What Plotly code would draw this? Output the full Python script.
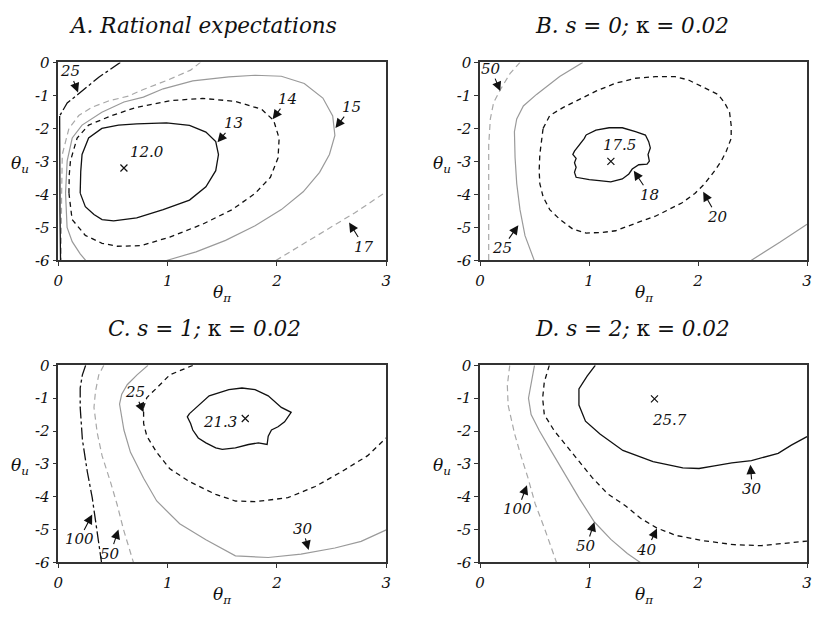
import plotly.graph_objects as go

W, H = 815, 619

# ---------------- tick labels ----------------
x_ticks = [0, 1, 2, 3]
x_tick_labels = ["0", "1", "2", "3"]
y_ticks = [0, -1, -2, -3, -4, -5, -6]
y_tick_labels = ["0", "-1", "-2", "-3", "-4", "-5", "-6"]

panel_titles = [
    "<i>A. Rational expectations</i>",
    "<i>B. s = 0;</i> κ <i>= 0.02</i>",
    "<i>C. s = 1;</i> κ <i>= 0.02</i>",
    "<i>D. s = 2;</i> κ <i>= 0.02</i>",
]

# ---------------- Panel A : rational expectations ----------------
A13_x = [0.2, 0.205, 0.217, 0.277, 0.398, 0.55, 0.717, 0.989, 1.20, 1.35, 1.44, 1.465, 1.44, 1.35, 1.20, 0.959, 0.717, 0.506, 0.40, 0.326, 0.247, 0.2]
A13_y = [-3.96, -3.3, -2.79, -2.29, -2.0, -1.9, -1.86, -1.83, -1.91, -2.11, -2.40, -2.79, -3.28, -3.77, -4.17, -4.46, -4.71, -4.80, -4.76, -4.61, -4.37, -3.96]
A14_x = [0.097, 0.1, 0.111, 0.172, 0.277, 0.488, 0.717, 0.868, 1.02, 1.32, 1.62, 1.86, 1.97, 2.02, 2.01, 1.94, 1.80, 1.59, 1.32, 1.02, 0.76, 0.537, 0.4, 0.247, 0.126, 0.097]
A14_y = [-3.96, -3.4, -2.98, -2.29, -1.90, -1.61, -1.36, -1.26, -1.16, -1.09, -1.18, -1.42, -1.76, -2.30, -2.89, -3.48, -3.97, -4.46, -4.90, -5.29, -5.55, -5.57, -5.48, -5.24, -4.76, -3.96]
A15_x = [0.25, 0.2, 0.127, 0.08, 0.066, 0.081, 0.127, 0.217, 0.398, 0.6, 0.778, 0.959, 1.23, 1.56, 1.80, 2.04, 2.25, 2.42, 2.51, 2.53, 2.48, 2.39, 2.24, 2.04, 1.80, 1.53, 1.26, 0.989]
A15_y = [-6.0, -5.8, -5.43, -5.0, -3.96, -2.98, -2.29, -1.90, -1.51, -1.2, -1.05, -0.8, -0.56, -0.44, -0.39, -0.42, -0.64, -1.08, -1.62, -2.21, -2.79, -3.33, -3.92, -4.46, -4.95, -5.39, -5.74, -6.0]
A16_x = [1.30, 1.21, 0.99, 0.778, 0.64, 0.458, 0.307, 0.187, 0.097, 0.036, 0.03, 0.028, 0.025]
A16_y = [0.0, -0.235, -0.55, -0.82, -1.02, -1.17, -1.36, -1.61, -2.0, -2.79, -4.0, -5.0, -6.0]
A17_x = [1.99, 2.22, 2.47, 2.71, 3.0]
A17_y = [-6.0, -5.54, -5.05, -4.56, -3.92]
A25_x = [0.567, 0.37, 0.175, 0.081, 0.012, 0.012, 0.015, 0.02]
A25_y = [0.0, -0.45, -0.98, -1.23, -1.62, -3.0, -4.5, -6.0]

# ---------------- Panel B : s = 0 ----------------
B18_x = [0.972, 1.063, 1.184, 1.305, 1.426, 1.517, 1.547, 1.562, 1.541, 1.553, 1.532, 1.456, 1.396, 1.365, 1.305, 1.199, 1.093, 1.002, 0.881, 0.866, 0.881, 0.866, 0.881, 0.851, 0.866, 0.911, 0.957, 0.972]
B18_y = [-2.20, -2.05, -1.98, -1.98, -2.10, -2.20, -2.40, -2.59, -2.79, -2.99, -3.08, -3.10, -3.23, -3.38, -3.53, -3.62, -3.58, -3.55, -3.48, -3.33, -3.18, -3.04, -2.91, -2.79, -2.69, -2.50, -2.30, -2.20]
B20_x = [0.578, 0.639, 0.760, 0.911, 1.063, 1.244, 1.426, 1.608, 1.789, 1.910, 2.031, 2.183, 2.243, 2.289, 2.304, 2.304, 2.259, 2.213, 2.153, 2.062, 1.971, 1.850, 1.729, 1.608, 1.487, 1.365, 1.244, 1.123, 0.972, 0.851, 0.730, 0.639, 0.578, 0.548, 0.542, 0.548, 0.563, 0.578]
B20_y = [-2.00, -1.61, -1.37, -1.12, -0.87, -0.63, -0.48, -0.43, -0.43, -0.53, -0.73, -0.97, -1.22, -1.51, -1.91, -2.30, -2.69, -2.99, -3.28, -3.67, -3.97, -4.26, -4.46, -4.66, -4.80, -4.95, -5.10, -5.15, -5.17, -5.05, -4.75, -4.46, -4.07, -3.67, -3.28, -2.79, -2.30, -2.00]
B25_x = [0.942, 0.730, 0.518, 0.397, 0.336, 0.315, 0.321, 0.336, 0.366, 0.412, 0.497]
B25_y = [0.0, -0.43, -0.97, -1.32, -1.71, -2.10, -2.89, -3.67, -4.46, -5.25, -6.0]
B25b_x = [2.486, 2.75, 3.0]
B25b_y = [-6.0, -5.45, -4.90]
B50_x = [0.366, 0.276, 0.185, 0.124, 0.094, 0.079, 0.079, 0.079, 0.079]
B50_y = [0.0, -0.33, -0.83, -1.22, -1.71, -2.50, -3.48, -4.75, -6.0]

# ---------------- Panel C : s = 1 ----------------
C21_x = [1.20, 1.26, 1.38, 1.56, 1.68, 1.80, 1.92, 2.04, 2.13, 2.07, 2.01, 1.95, 1.92, 1.91, 1.83, 1.74, 1.62, 1.50, 1.44, 1.35, 1.28, 1.23, 1.21, 1.18, 1.20]
C21_y = [-1.47, -1.28, -0.93, -0.74, -0.69, -0.74, -0.93, -1.28, -1.43, -1.72, -1.87, -1.97, -2.16, -2.41, -2.36, -2.41, -2.51, -2.56, -2.51, -2.36, -2.21, -1.97, -1.77, -1.57, -1.47]
C25_x = [1.23, 1.02, 0.90, 0.81, 0.78, 0.78, 0.81, 0.90, 1.02, 1.20, 1.44, 1.62, 1.80, 2.10, 2.35, 2.59, 2.83, 2.92, 3.0]
C25_y = [0.0, -0.29, -0.69, -0.98, -1.28, -1.77, -2.16, -2.65, -3.15, -3.54, -3.93, -4.13, -4.15, -4.03, -3.69, -3.24, -2.75, -2.46, -2.21]
C30_x = [0.82, 0.72, 0.63, 0.58, 0.56, 0.60, 0.66, 0.78, 0.90, 1.11, 1.35, 1.62, 1.92, 2.22, 2.53, 2.77, 3.0]
C30_y = [0.0, -0.29, -0.59, -0.88, -1.18, -1.97, -2.65, -3.44, -4.13, -4.82, -5.31, -5.80, -5.85, -5.75, -5.56, -5.36, -5.01]
C50_x = [0.416, 0.37, 0.34, 0.326, 0.356, 0.40, 0.476, 0.537, 0.597, 0.687]
C50_y = [0.0, -0.29, -0.79, -1.28, -2.06, -2.75, -3.54, -4.23, -5.01, -6.0]
C100_x = [0.25, 0.22, 0.20, 0.20, 0.22, 0.265, 0.31, 0.35, 0.395]
C100_y = [0.0, -0.29, -0.69, -1.28, -2.26, -3.24, -4.03, -5.01, -6.0]

# ---------------- Panel D : s = 2 ----------------
D30_x = [1.057, 0.982, 0.907, 0.907, 0.967, 1.10, 1.31, 1.587, 1.86, 2.009, 2.15, 2.31, 2.49, 2.735, 2.856, 3.0]
D30_y = [0.0, -0.33, -0.72, -1.21, -1.70, -2.09, -2.59, -2.93, -3.12, -3.14, -3.06, -2.97, -2.90, -2.68, -2.43, -2.17]
D40_x = [0.635, 0.589, 0.574, 0.589, 0.68, 0.80, 0.921, 1.027, 1.17, 1.336, 1.47, 1.62, 1.80, 2.03, 2.33, 2.58, 2.79, 3.0]
D40_y = [0.0, -0.51, -1.0, -1.5, -1.99, -2.48, -2.97, -3.41, -3.91, -4.28, -4.65, -4.95, -5.18, -5.33, -5.46, -5.49, -5.42, -5.35]
D50_x = [0.499, 0.468, 0.444, 0.468, 0.544, 0.649, 0.785, 0.91, 1.049, 1.2, 1.351, 1.47]
D50_y = [0.0, -0.51, -1.0, -1.5, -1.99, -2.59, -3.37, -4.05, -4.77, -5.3, -5.73, -6.0]
D100_x = [0.272, 0.25, 0.257, 0.317, 0.377, 0.438, 0.505, 0.595, 0.701]
D100_y = [0.0, -0.61, -1.21, -2.09, -2.78, -3.41, -4.21, -5.0, -6.0]

# ---------------- minima (x marks) and their values ----------------
min_panel = [1, 2, 3, 4]
min_x = [0.6, 1.2, 1.71, 1.60]
min_y = [-3.2, -3.0, -1.62, -1.02]
min_text = ["12.0", "17.5", "21.3", "25.7"]
min_text_x = [0.808, 1.28, 1.477, 1.737]
min_text_y = [-2.70, -2.51, -1.72, -1.66]

# ---------------- contour labels with arrows ----------------
lab_panel = [1, 1, 1, 1, 1, 2, 2, 2, 2, 3, 3, 3, 3, 4, 4, 4, 4]
lab_text = ["25", "13", "14", "15", "17", "50", "25", "18", "20", "25", "100", "50", "30", "100", "50", "40", "30"]
lab_x = [0.18, 1.456, 1.96, 2.535, 2.66, 0.185, 0.351, 1.41, 2.047, 0.78, 0.31, 0.55, 2.29, 0.43, 1.049, 1.623, 2.48]
lab_y = [-0.91, -2.42, -1.72, -1.99, -4.85, -0.87, -4.93, -3.28, -3.92, -1.43, -4.54, -5.00, -5.62, -3.65, -4.77, -4.97, -3.03]

# ---------------- styles (kept apart from data) ----------------
STYLE = {
    "k": dict(color="#111111", width=1.3, dash="solid"),
    "kd": dict(color="#111111", width=1.3, dash="5px,4px"),
    "g": dict(color="#9a9a9a", width=1.2, dash="solid"),
    "gd": dict(color="#a8a8a8", width=1.2, dash="6px,4px"),
    "kdd": dict(color="#111111", width=1.3, dash="12px,3px,3px,3px"),
}
contours = [
    (1, A13_x, A13_y, "k"), (1, A14_x, A14_y, "kd"), (1, A15_x, A15_y, "g"),
    (1, A16_x, A16_y, "gd"), (1, A17_x, A17_y, "gd"),
    (1, A25_x[:5], A25_y[:5], "kdd"), (1, A25_x[4:], A25_y[4:], "k"),
    (2, B18_x, B18_y, "k"), (2, B20_x, B20_y, "kd"), (2, B25_x, B25_y, "g"),
    (2, B25b_x, B25b_y, "g"), (2, B50_x, B50_y, "gd"),
    (3, C21_x, C21_y, "k"), (3, C25_x, C25_y, "kd"), (3, C30_x, C30_y, "g"),
    (3, C50_x, C50_y, "gd"), (3, C100_x, C100_y, "kdd"),
    (4, D30_x, D30_y, "k"), (4, D40_x, D40_y, "kd"), (4, D50_x, D50_y, "g"),
    (4, D100_x, D100_y, "gd"),
]
# text offsets (pixels) of each arrow label from its arrow tip
lab_ax = [-8, 16, 15, 16, 15, -9, -16, 16, 14, -9, -13, -8, -6, -9, -8, -10, 2]
lab_ay = [-21, -19, -20, -21, 24, -22, 23, 24, 25, -20, 25, 24, -21, 24, 24, 21, 24]

# panel pixel boxes: (left, right, top, bottom)
BOX = {1: (54, 386, 55, 259), 2: (481, 812, 55, 259), 3: (54, 386, 367, 570), 4: (481, 812, 367, 570)}
TITLE_POS = {1: (200, 17), 2: (635, 17), 3: (202, 329), 4: (635, 329)}

FAM = "DejaVu Serif"


def ax_names(p):
    s = "" if p == 1 else str(p)
    return "x" + s, "y" + s


fig = go.Figure()

for p, xs, ys, st in contours:
    xa, ya = ax_names(p)
    fig.add_trace(go.Scatter(x=xs, y=ys, mode="lines", line=STYLE[st],
                             xaxis=xa, yaxis=ya, showlegend=False, hoverinfo="skip"))

for p, mx, my in zip(min_panel, min_x, min_y):
    xa, ya = ax_names(p)
    fig.add_trace(go.Scatter(x=[mx], y=[my], mode="markers",
                             marker=dict(symbol="x-thin", size=7, line=dict(width=1.2, color="#111")),
                             xaxis=xa, yaxis=ya, showlegend=False, hoverinfo="skip"))

annotations = []
lab_font = dict(family=FAM, size=15, color="#111", style="italic")
for p, t, tx, ty in zip(min_panel, min_text, min_text_x, min_text_y):
    xa, ya = ax_names(p)
    annotations.append(dict(x=tx, y=ty, xref=xa, yref=ya, text=t, showarrow=False, font=lab_font))

for p, t, lx, ly, ox, oy in zip(lab_panel, lab_text, lab_x, lab_y, lab_ax, lab_ay):
    xa, ya = ax_names(p)
    annotations.append(dict(x=lx, y=ly, xref=xa, yref=ya, text=t, showarrow=True,
                            arrowhead=2, arrowsize=1.7, arrowwidth=1.1, arrowcolor="#111",
                            ax=ox, ay=oy, standoff=0, startstandoff=0, font=lab_font,
                            borderpad=0))

layout = dict(width=W, height=H, margin=dict(l=0, r=0, t=0, b=0),
              paper_bgcolor="white", plot_bgcolor="white", showlegend=False)

tick_font = dict(family=FAM, size=15, color="#111", style="italic")
for p in (1, 2, 3, 4):
    l, r, t, b = BOX[p]
    s = "" if p == 1 else str(p)
    xa, ya = ax_names(p)
    layout["xaxis" + s] = dict(domain=[l / W, r / W], range=[0, 3], tickvals=x_ticks, ticktext=x_tick_labels,
                               showgrid=False, zeroline=False, showline=True, mirror=True,
                               linecolor="#333", linewidth=1.5, ticks="outside", ticklen=4,
                               tickcolor="#333", tickfont=tick_font, ticklabelstandoff=2,
                               ticklabeloverflow="allow", anchor=ya, fixedrange=True)
    layout["yaxis" + s] = dict(domain=[1 - b / H, 1 - t / H], range=[-6, 0], tickvals=y_ticks, ticktext=y_tick_labels,
                               showgrid=False, zeroline=False, showline=True, mirror=True,
                               linecolor="#333", linewidth=1.5, ticks="outside", ticklen=4,
                               tickcolor="#333", tickfont=tick_font, anchor=xa, fixedrange=True)
    # panel title
    tx, ty = TITLE_POS[p]
    annotations.append(dict(x=tx / W, y=1 - ty / H, xref="paper", yref="paper", text=panel_titles[p - 1],
                            showarrow=False, xanchor="center", yanchor="middle",
                            font=dict(family=FAM, size=21.5, color="#111")))
    # axis titles
    annotations.append(dict(x=0.5, y=0, xref=xa + " domain", yref=ya + " domain",
                            text="<i>θ<sub>π</sub></i>", showarrow=False, xanchor="center", yanchor="middle",
                            yshift=-33, font=dict(family=FAM, size=17, color="#111")))
    annotations.append(dict(x=0, y=-3, xref=xa + " domain", yref=ya,
                            text="<i>θ<sub>u</sub></i>", showarrow=False, xanchor="center", yanchor="middle",
                            xshift=-38, yshift=-3, font=dict(family=FAM, size=17, color="#111")))

layout["annotations"] = annotations
fig.update_layout(**layout)
fig.write_html("out.html", config={"displayModeBar": False},
               post_script="document.body.style.margin='0px';")
